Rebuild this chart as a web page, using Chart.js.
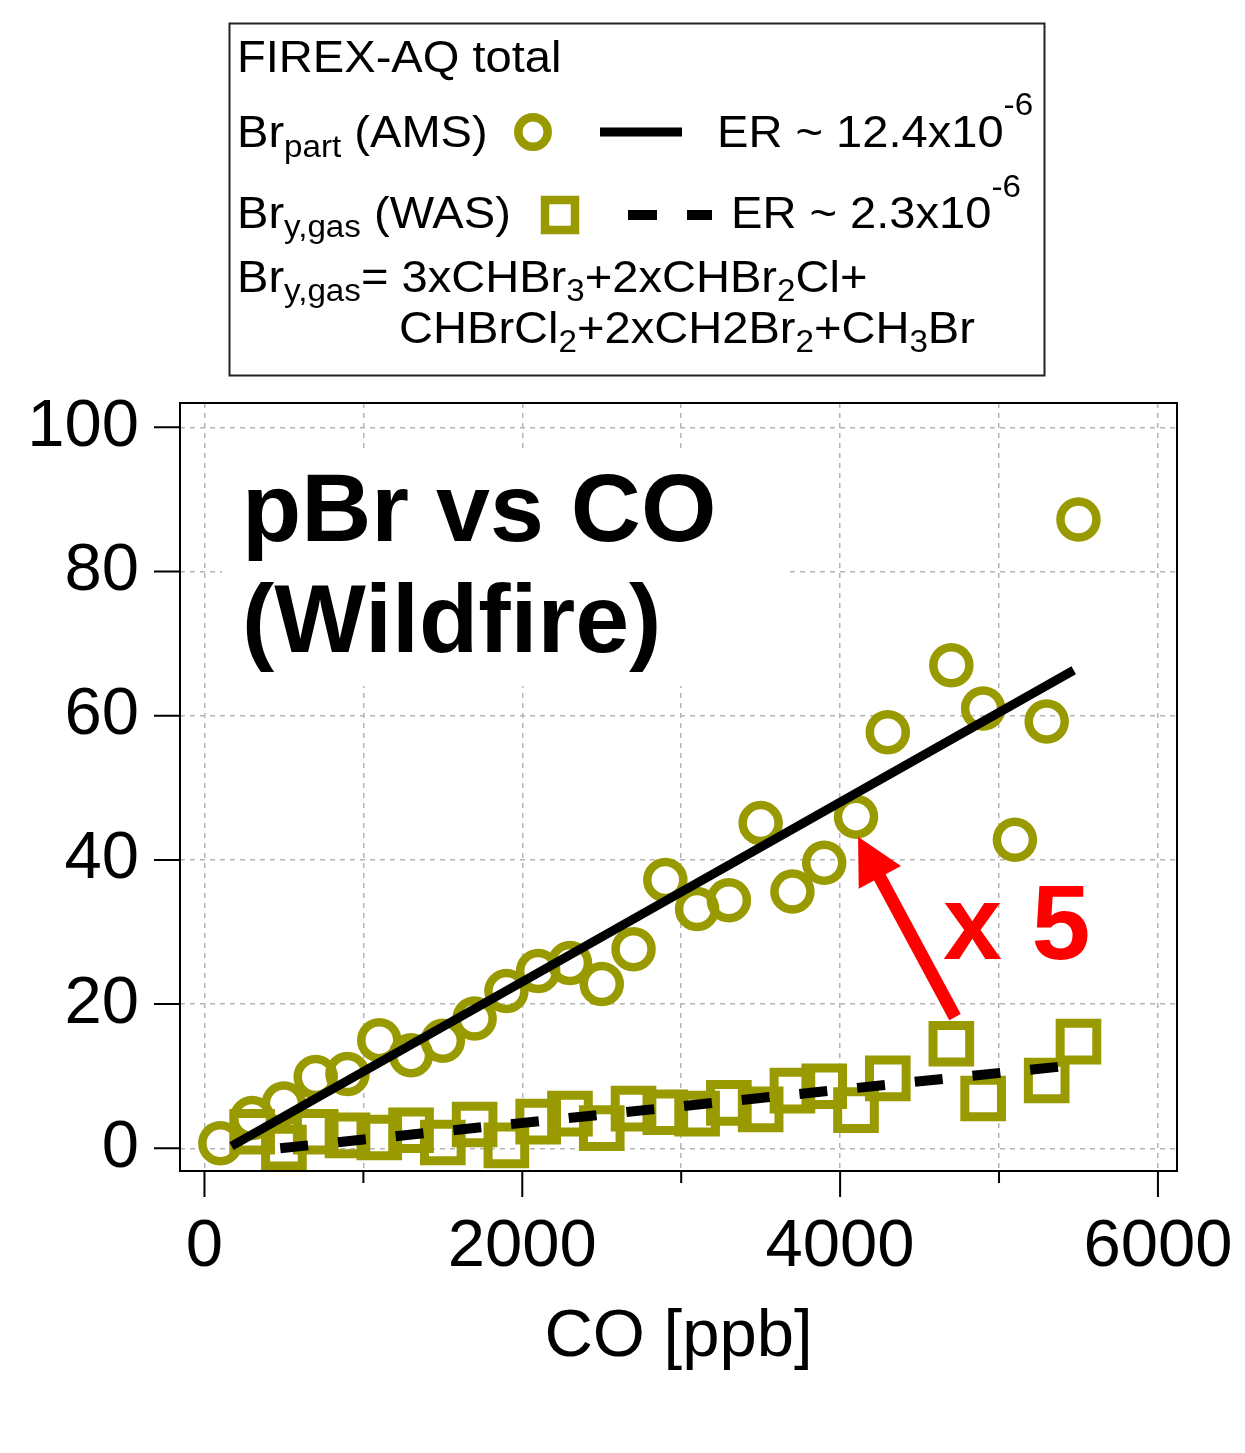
<!DOCTYPE html>
<html><head><meta charset="utf-8">
<script src="https://cdn.jsdelivr.net/npm/chart.js@4.4.1/dist/chart.umd.min.js"></script>
<style>html,body{margin:0;padding:0;background:#fff;}canvas{display:block;}</style>
</head><body>
<canvas id="c" width="1245" height="1453"></canvas>
<script>
// ---- data ----
const brPartCO = [100,300,500,700,900,1100,1300,1500,1700,1900,2100,2300,2500,2700,2900,3100,3300,3500,3700,3900,4100,4300,4700,4900,5100,5300,5500];
const brPart   = [0.7,4.2,6.2,9.9,10.3,15.0,12.9,14.9,18.0,21.8,24.6,25.7,22.8,27.6,37.2,33.2,34.4,45.1,35.6,39.6,46.0,57.7,67.0,61.0,42.8,59.2,87.2];
const bryGasCO = [300,500,700,900,1100,1300,1500,1700,1900,2100,2300,2500,2700,2900,3100,3300,3500,3700,3900,4100,4300,4700,4900,5300,5500];
const bryGas   = [2.3,0.1,2.3,1.8,1.5,2.5,0.8,3.3,0.4,3.7,4.8,2.8,5.5,5.0,4.8,6.3,5.4,8.0,8.6,5.3,9.7,14.5,6.9,9.4,14.8];
const fitPartCO = [170, 5470];
const fitPart   = [0.3, 66.3];
const fitGasCO  = [477, 5460];
const fitGas    = [0.0, 11.5];
const xTicks = [0,1000,2000,3000,4000,5000,6000];
const xLabelTicks = [0,2000,4000,6000];
const yTicks = [0,20,40,60,80,100];
const xTitle = 'CO [ppb]';
const panelTitle = ['pBr vs CO', '(Wildfire)'];
const factorLabel = 'x 5';
const arrowFrom = [4723, 18.2];
const arrowTo   = [4113, 43.2];
const legendTitle = 'FIREX-AQ total';
const erPart = 'ER ~ 12.4x10';
const erGas  = 'ER ~ 2.3x10';
const erExp  = '-6';

const OLIVE = '#999900';
const FONT = '"Liberation Sans", Arial, sans-serif';

function pts(xs, ys){ return xs.map((v,i)=>({x:v, y:ys[i]})); }

function runs(ctx, x, y, parts, sx){
  let cx = x;
  for (const [t, s, dy] of parts){
    ctx.font = s + 'px ' + FONT;
    ctx.save(); ctx.translate(cx, y + dy); ctx.scale(sx, 1); ctx.fillText(t, 0, 0); ctx.restore();
    cx += ctx.measureText(t).width * sx;
  }
  return cx;
}

const decor = {
  id: 'decor',
  beforeDatasetsDraw(chart){
    const {ctx, chartArea: a} = chart;
    ctx.save();
    const ox = a.left + 62, b1 = a.top + 138, b2 = a.top + 249;
    ctx.fillStyle = '#fff';
    ctx.fillRect(ox - 20, b1 - 90, 566, (b2 + 34) - (b1 - 90));
    ctx.fillStyle = '#000';
    ctx.font = 'bold 97px ' + FONT;
    ctx.textBaseline = 'alphabetic'; ctx.textAlign = 'left';
    ctx.fillText(panelTitle[0], ox, b1);
    ctx.fillText(panelTitle[1], ox, b2);
    ctx.restore();
  },
  afterDraw(chart){
    const {ctx, chartArea: a, scales: {x, y}} = chart;
    ctx.save();
    // frame
    ctx.strokeStyle = '#000'; ctx.lineWidth = 2; ctx.setLineDash([]);
    ctx.strokeRect(a.left, a.top, a.right - a.left, a.bottom - a.top);
    // tick marks
    ctx.beginPath();
    for (const v of yTicks){ const py = y.getPixelForValue(v); ctx.moveTo(a.left - 26, py); ctx.lineTo(a.left, py); }
    for (const v of xTicks){ const px = x.getPixelForValue(v); const L = xLabelTicks.includes(v) ? 26 : 12; ctx.moveTo(px, a.bottom); ctx.lineTo(px, a.bottom + L); }
    ctx.stroke();
    // arrow
    const fx = x.getPixelForValue(arrowFrom[0]), fy = y.getPixelForValue(arrowFrom[1]);
    const tx = x.getPixelForValue(arrowTo[0]),   ty = y.getPixelForValue(arrowTo[1]);
    const ang = Math.atan2(ty - fy, tx - fx), c = Math.cos(ang), s = Math.sin(ang);
    const hl = 46, hw = 24;
    const bx = tx - hl * c, by = ty - hl * s;
    ctx.strokeStyle = '#ff0000'; ctx.fillStyle = '#ff0000'; ctx.lineWidth = 13; ctx.lineCap = 'butt';
    ctx.beginPath(); ctx.moveTo(fx, fy); ctx.lineTo(bx + 2 * c, by + 2 * s); ctx.stroke();
    ctx.beginPath(); ctx.moveTo(tx, ty); ctx.lineTo(bx + hw * s, by - hw * c); ctx.lineTo(bx - hw * s, by + hw * c); ctx.closePath(); ctx.fill();
    // x 5 label
    ctx.font = 'bold 106px ' + FONT; ctx.textAlign = 'left'; ctx.textBaseline = 'alphabetic';
    ctx.fillText(factorLabel, a.left + 763, a.top + 556);
    ctx.restore();

    // legend box
    ctx.save();
    ctx.strokeStyle = '#222'; ctx.lineWidth = 2;
    ctx.strokeRect(229.5, 23.5, 815, 352);
    ctx.fillStyle = '#000'; ctx.textAlign = 'left'; ctx.textBaseline = 'alphabetic';
    const M = 44, S = 31, sx = 1.07, dS = 9;
    runs(ctx, 237, 72, [[legendTitle, M, 0]], sx);
    runs(ctx, 237, 147, [['Br', M, 0], ['part', S, 10], [' (AMS)', M, 0]], sx);
    runs(ctx, 717, 147, [[erPart, M, 0], [erExp, S, -32]], sx);
    runs(ctx, 237, 228, [['Br', M, 0], ['y,gas', S, dS], [' (WAS)', M, 0]], sx);
    runs(ctx, 731, 228, [[erGas, M, 0], [erExp, S, -31]], sx);
    runs(ctx, 237, 292, [['Br', M, 0], ['y,gas', S, dS], ['= 3xCHBr', M, 0], ['3', S, dS], ['+2xCHBr', M, 0], ['2', S, dS], ['Cl+', M, 0]], sx);
    runs(ctx, 399, 343, [['CHBrCl', M, 0], ['2', S, dS], ['+2xCH2Br', M, 0], ['2', S, dS], ['+CH', M, 0], ['3', S, dS], ['Br', M, 0]], sx);
    // legend markers
    ctx.strokeStyle = OLIVE; ctx.lineWidth = 8.5;
    ctx.beginPath(); ctx.arc(533, 132, 14.7, 0, Math.PI * 2); ctx.stroke();
    ctx.strokeRect(545, 200, 30, 30);
    ctx.strokeStyle = '#000'; ctx.lineWidth = 9;
    ctx.beginPath(); ctx.moveTo(600, 132); ctx.lineTo(682, 132); ctx.stroke();
    ctx.lineWidth = 10; ctx.setLineDash([29, 30]);
    ctx.beginPath(); ctx.moveTo(628, 215); ctx.lineTo(712, 215); ctx.stroke();
    ctx.restore();
  }
};

new Chart(document.getElementById('c'), {
  type: 'scatter',
  data: {
    datasets: [
      { label: 'fit gas', type: 'line', data: pts(fitGasCO, fitGas), borderColor: '#000', borderWidth: 10, borderDash: [28, 30], pointRadius: 0, fill: false, order: 0, clip: false },
      { label: 'fit part', type: 'line', data: pts(fitPartCO, fitPart), borderColor: '#000', borderWidth: 9, pointRadius: 0, fill: false, order: 1, clip: false },
      { label: 'Bry,gas (WAS)', data: pts(bryGasCO, bryGas), pointStyle: 'rect', pointRadius: 25.9, borderWidth: 9, borderColor: OLIVE, backgroundColor: 'rgba(0,0,0,0)', order: 2, clip: false },
      { label: 'Brpart (AMS)', data: pts(brPartCO, brPart), pointStyle: 'circle', pointRadius: 18, borderWidth: 8.5, borderColor: OLIVE, backgroundColor: 'rgba(0,0,0,0)', order: 3, clip: false }
    ]
  },
  options: {
    responsive: false, devicePixelRatio: 1, animation: false,
    layout: { padding: { top: 403, right: 68, left: 0, bottom: 0 } },
    plugins: { legend: { display: false }, tooltip: { enabled: false } },
    scales: {
      x: {
        type: 'linear', min: -154, max: 6120,
        afterBuildTicks: s => { s.ticks = xTicks.map(v => ({ value: v })); },
        afterFit: s => { s.height = 282; s.paddingLeft = 0; s.paddingRight = 0; },
        ticks: { autoSkip: false, maxRotation: 0, padding: 36, color: '#000', font: { size: 67, family: FONT },
                 callback: v => xLabelTicks.includes(v) ? String(v) : '' },
        grid: { color: '#b4b4b4', lineWidth: 1.5, drawTicks: false },
        border: { display: false, dash: [5, 5] },
        title: { display: true, text: xTitle, color: '#000', font: { size: 67, family: FONT }, padding: { top: 0, bottom: 75 } }
      },
      y: {
        type: 'linear', min: -3.15, max: 103.37,
        afterBuildTicks: s => { s.ticks = yTicks.map(v => ({ value: v })); },
        afterFit: s => { s.width = 180; s.paddingTop = 0; s.paddingBottom = 0; },
        ticks: { padding: 41, color: '#000', font: { size: 67, family: FONT }, callback: v => String(v) },
        grid: { color: '#b4b4b4', lineWidth: 1.5, drawTicks: false },
        border: { display: false, dash: [5, 5] }
      }
    }
  },
  plugins: [decor]
});
</script>
</body></html>
